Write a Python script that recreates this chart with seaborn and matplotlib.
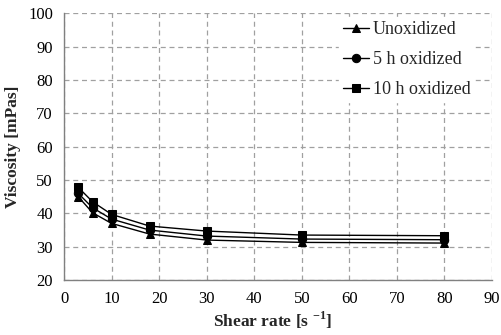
import matplotlib
matplotlib.use("Agg")
import matplotlib.pyplot as plt
import seaborn as sns
import pandas as pd

shear_rate = [3, 6, 10, 18, 30, 50, 80]
unoxidized = [45.0, 40.2, 37.0, 33.8, 32.0, 31.3, 31.1]
oxidized_5h = [46.0, 41.7, 38.3, 35.0, 33.2, 32.3, 32.1]
oxidized_10h = [47.8, 43.5, 39.7, 36.2, 34.7, 33.5, 33.3]
series_names = ["Unoxidized", "5 h oxidized", "10 h oxidized"]
x_ticks = [0, 10, 20, 30, 40, 50, 60, 70, 80, 90]
y_ticks = [20, 30, 40, 50, 60, 70, 80, 90, 100]

rows = []
for name, vals in zip(series_names, [unoxidized, oxidized_5h, oxidized_10h]):
    for x, y in zip(shear_rate, vals):
        rows.append({"Shear rate": x, "Viscosity": y, "Series": name})
df = pd.DataFrame(rows)

sns.set_style("white")
plt.rcParams["font.family"] = ["Liberation Serif", "DejaVu Serif"]

fig = plt.figure(figsize=(5.02, 3.35), dpi=100)
ax = fig.add_axes([0.1275, 0.164, 0.8525, 0.796])

sns.lineplot(data=df, x="Shear rate", y="Viscosity", hue="Series", style="Series",
             palette=["black"] * 3, markers=["^", "o", "s"], dashes=False,
             markersize=6, linewidth=1.0, markeredgecolor="black", ax=ax,
             hue_order=series_names, style_order=series_names)

ax.set_xlim(0, 90)
ax.set_ylim(20, 100)
ax.set_xticks(x_ticks)
ax.set_yticks(y_ticks)
ax.grid(True, linestyle=(0, (4, 3)), color="#a0a0a0", linewidth=0.9)
ax.set_axisbelow(True)
for s in ["top", "right"]:
    ax.spines[s].set_visible(False)
for s in ["left", "bottom"]:
    ax.spines[s].set_color("#808080")
    ax.spines[s].set_linewidth(1.0)
ax.tick_params(axis="both", direction="out", length=4, width=1, color="#808080",
               labelsize=12, labelcolor="black", pad=4)
ax.set_xlabel("Shear rate [s $^{\\mathregular{-1}}$]", fontsize=12.5, fontweight="bold", labelpad=0)
ax.xaxis.set_label_coords(0.487, -0.112)
ax.set_ylabel("Viscosity [mPas]", fontsize=12.5, fontweight="bold", labelpad=5)

leg = ax.legend(loc="upper left", bbox_to_anchor=(0.643, 0.985), frameon=True,
                fontsize=13, handlelength=1.45, handletextpad=0.2,
                labelspacing=0.72, borderaxespad=0.0, borderpad=0.2)
leg.get_frame().set_edgecolor("white")
leg.get_frame().set_facecolor("white")
leg.get_frame().set_alpha(1.0)
leg.get_frame().set_boxstyle("square", pad=0.0)

fig.savefig("out.png", dpi=100)
